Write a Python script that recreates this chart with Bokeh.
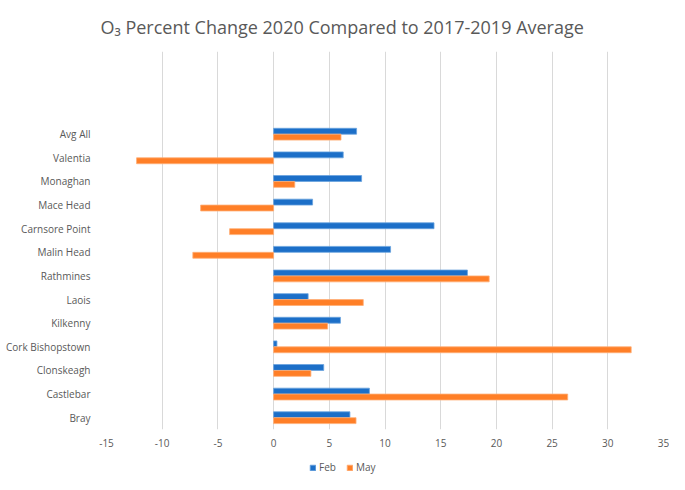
from bokeh.plotting import figure
from bokeh.layouts import column
from bokeh.models import ColumnDataSource, Range1d, FixedTicker, Legend, LegendItem
from bokeh.embed import file_html
from bokeh.resources import INLINE

sites = ["Bray", "Castlebar", "Clonskeagh", "Cork Bishopstown", "Kilkenny", "Laois",
         "Rathmines", "Malin Head", "Carnsore Point", "Mace Head", "Monaghan", "Valentia", "Avg All"]
feb = [6.85, 8.6, 4.5, 0.3, 6.0, 3.1, 17.4, 10.5, 14.4, 3.5, 7.9, 6.25, 7.45]
may = [7.4, 26.4, 3.35, 32.1, 4.85, 8.05, 19.35, -7.25, -3.95, -6.55, 1.9, -12.3, 6.05]
x_ticks = [-15, -10, -5, 0, 5, 10, 15, 20, 25, 30, 35]
x_tick_labels = ["-15", "-10", "-5", "0", "5", "10", "15", "20", "25", "30", "35"]

FONT = "Open Sans"
GRAY = "#595959"
BLUE, BLUE_EDGE = "#1c6fc8", "#6aa3de"
ORANGE, ORANGE_EDGE = "#ff7f27", "#ffae76"

n = len(sites)
y_pos = [float(i) for i in range(n)]
src = ColumnDataSource(dict(site=sites, feb=feb, may=may,
                            y_feb=[y + 0.125 for y in y_pos],
                            y_may=[y - 0.125 for y in y_pos]))

p = figure(width=669, height=452, output_backend="svg", toolbar_location=None,
           x_range=Range1d(-15, 35), y_range=Range1d(-0.5, 15.5),
           min_border_left=106, min_border_right=6, min_border_top=51, min_border_bottom=23,
           title="O\u2083 Percent Change 2020 Compared to 2017-2019 Average")

p.title.align = "left"
p.title.offset = -6
p.title.text_font = FONT
p.title.text_font_size = "18px"
p.title.text_font_style = "normal"
p.title.text_color = GRAY
p.title.standoff = 25

p.hbar(y="y_feb", right="feb", left=0, height=0.25, source=src,
       fill_color=BLUE, line_color=BLUE_EDGE, line_width=0.8)
p.hbar(y="y_may", right="may", left=0, height=0.25, source=src,
       fill_color=ORANGE, line_color=ORANGE_EDGE, line_width=0.8)

p.outline_line_color = None
p.ygrid.grid_line_color = None
p.xgrid.grid_line_color = "#d9d9d9"
p.xgrid.grid_line_width = 1
p.xaxis.ticker = FixedTicker(ticks=x_ticks)
p.xaxis.major_label_overrides = {t: s for t, s in zip(x_ticks, x_tick_labels)}
p.yaxis.ticker = FixedTicker(ticks=list(range(n)))
p.yaxis.major_label_overrides = {i: s for i, s in enumerate(sites)}

for ax in (p.xaxis[0], p.yaxis[0]):
    ax.axis_line_color = None
    ax.major_tick_line_color = None
    ax.minor_tick_line_color = None
    ax.major_label_text_font = FONT
    ax.major_label_text_font_size = "10px"
    ax.major_label_text_color = GRAY
p.yaxis.major_label_standoff = 10
p.xaxis.major_label_standoff = 3

# legend strip below the chart (its swatch renderers lie outside its visible range)
lf = figure(width=669, height=22, output_backend="svg", toolbar_location=None,
            x_range=Range1d(-15, 35), y_range=Range1d(100, 101),
            x_axis_location=None, y_axis_location=None,
            min_border_left=0, min_border_right=0, min_border_top=0, min_border_bottom=0)
lf.outline_line_color = None
lf.grid.grid_line_color = None
l_feb = lf.hbar(y="y_feb", right="feb", left=0, height=0.25, source=src,
                fill_color=BLUE, line_color=BLUE_EDGE, line_width=0.8)
l_may = lf.hbar(y="y_may", right="may", left=0, height=0.25, source=src,
                fill_color=ORANGE, line_color=ORANGE_EDGE, line_width=0.8)

legend = Legend(items=[LegendItem(label="Feb", renderers=[l_feb]),
                       LegendItem(label="May", renderers=[l_may])],
                orientation="horizontal", location=(203, 0),
                border_line_color=None, background_fill_alpha=0,
                label_text_font=FONT, label_text_font_size="10px",
                label_text_color=GRAY, glyph_width=7, glyph_height=7,
                spacing=7, label_standoff=3, padding=2, margin=0)
lf.add_layout(legend, "center")

layout = column(p, lf, spacing=0)
open("out.html", "w").write(file_html(layout, INLINE))
